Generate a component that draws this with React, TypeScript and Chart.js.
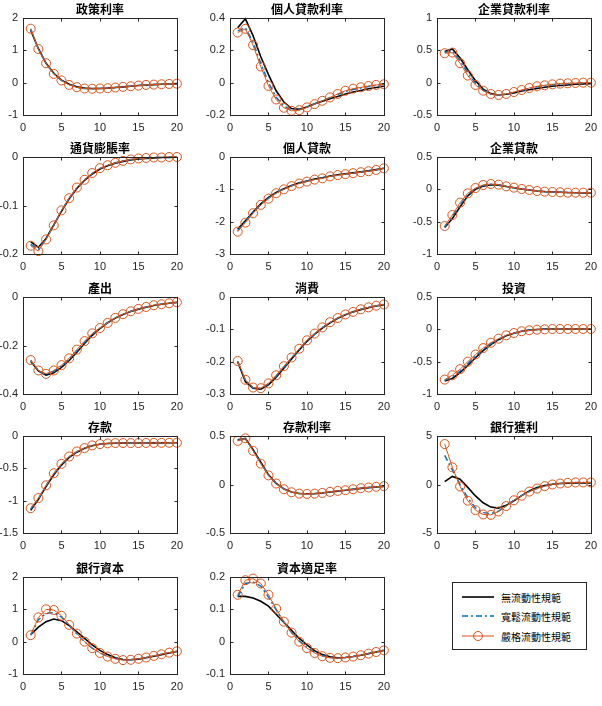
import React, { useEffect, useRef } from "react";
import { Chart, registerables } from "chart.js";

Chart.register(...registerables);

// ---- data ---------------------------------------------------------------
const periods = [1, 2, 3, 4, 5, 6, 7, 8, 9, 10, 11, 12, 13, 14, 15, 16, 17, 18, 19, 20];

const seriesNames = ["無流動性規範", "寬鬆流動性規範", "嚴格流動性規範"];

// 政策利率
const policyRateNone = [1.62, 1.05, 0.6, 0.29, 0.08, -0.05, -0.13, -0.17, -0.18, -0.18, -0.17, -0.15, -0.13, -0.11, -0.09, -0.07, -0.06, -0.05, -0.04, -0.03];
const policyRateLoose = [1.66, 1.04, 0.6, 0.28, 0.07, -0.06, -0.14, -0.18, -0.19, -0.18, -0.17, -0.15, -0.13, -0.11, -0.09, -0.07, -0.06, -0.05, -0.04, -0.03];
const policyRateStrict = [1.67, 1.04, 0.6, 0.27, 0.07, -0.07, -0.14, -0.18, -0.19, -0.18, -0.17, -0.15, -0.13, -0.11, -0.09, -0.07, -0.06, -0.05, -0.04, -0.03];

// 個人貸款利率
const hhRateNone = [0.34, 0.395, 0.29, 0.16, 0.05, -0.05, -0.12, -0.16, -0.165, -0.15, -0.13, -0.115, -0.1, -0.085, -0.07, -0.058, -0.048, -0.038, -0.03, -0.022];
const hhRateLoose = [0.32, 0.34, 0.25, 0.12, 0.0, -0.09, -0.145, -0.17, -0.168, -0.152, -0.132, -0.112, -0.092, -0.073, -0.055, -0.042, -0.033, -0.024, -0.017, -0.012];
const hhRateStrict = [0.31, 0.333, 0.232, 0.1, -0.02, -0.104, -0.155, -0.174, -0.17, -0.153, -0.133, -0.112, -0.091, -0.07, -0.05, -0.037, -0.029, -0.021, -0.014, -0.01];

// 企業貸款利率
const firmRateNone = [0.48, 0.52, 0.38, 0.2, 0.03, -0.1, -0.17, -0.19, -0.18, -0.16, -0.13, -0.11, -0.09, -0.07, -0.055, -0.045, -0.035, -0.025, -0.02, -0.015];
const firmRateLoose = [0.47, 0.49, 0.34, 0.15, -0.01, -0.12, -0.175, -0.19, -0.178, -0.15, -0.12, -0.09, -0.065, -0.048, -0.033, -0.022, -0.015, -0.01, -0.006, -0.004];
const firmRateStrict = [0.455, 0.465, 0.3, 0.11, -0.036, -0.124, -0.175, -0.19, -0.175, -0.145, -0.113, -0.082, -0.057, -0.041, -0.026, -0.015, -0.01, -0.005, 0, 0];

// 通貨膨脹率
const inflationNone = [-0.175, -0.186, -0.168, -0.14, -0.112, -0.086, -0.065, -0.048, -0.035, -0.025, -0.018, -0.013, -0.009, -0.006, -0.004, -0.003, -0.002, -0.001, -0.001, 0];
const inflationLoose = [-0.18, -0.19, -0.169, -0.141, -0.111, -0.085, -0.064, -0.047, -0.034, -0.024, -0.017, -0.012, -0.008, -0.005, -0.003, -0.002, -0.001, -0.001, 0, 0];
const inflationStrict = [-0.183, -0.194, -0.17, -0.141, -0.11, -0.085, -0.063, -0.047, -0.033, -0.023, -0.017, -0.012, -0.008, -0.005, -0.003, -0.002, -0.001, -0.001, 0, 0];

// 個人貸款
const hhLoansNone = [-2.23, -1.97, -1.7, -1.45, -1.25, -1.1, -0.98, -0.88, -0.8, -0.74, -0.68, -0.64, -0.59, -0.55, -0.52, -0.49, -0.46, -0.43, -0.39, -0.35];
const hhLoansLoose = [-2.28, -2.0, -1.72, -1.47, -1.27, -1.11, -0.99, -0.89, -0.81, -0.75, -0.69, -0.65, -0.6, -0.56, -0.53, -0.5, -0.47, -0.44, -0.4, -0.35];
const hhLoansStrict = [-2.31, -2.03, -1.74, -1.48, -1.29, -1.12, -1.0, -0.9, -0.82, -0.76, -0.7, -0.66, -0.6, -0.56, -0.53, -0.5, -0.47, -0.44, -0.4, -0.35];

// 企業貸款
const firmLoansNone = [-0.59, -0.45, -0.27, -0.1, 0.0, 0.05, 0.07, 0.065, 0.045, 0.025, 0.005, -0.01, -0.025, -0.035, -0.04, -0.045, -0.05, -0.052, -0.054, -0.055];
const firmLoansLoose = [-0.58, -0.42, -0.24, -0.08, 0.01, 0.06, 0.078, 0.07, 0.046, 0.026, 0.005, -0.01, -0.026, -0.036, -0.041, -0.046, -0.05, -0.052, -0.053, -0.053];
const firmLoansStrict = [-0.567, -0.397, -0.206, -0.062, 0.02, 0.067, 0.082, 0.072, 0.046, 0.026, 0.005, -0.01, -0.026, -0.036, -0.041, -0.046, -0.052, -0.052, -0.052, -0.052];

// 產出
const outputNone = [-0.265, -0.305, -0.322, -0.312, -0.29, -0.262, -0.228, -0.192, -0.158, -0.13, -0.106, -0.087, -0.072, -0.06, -0.05, -0.042, -0.035, -0.03, -0.026, -0.022];
const outputLoose = [-0.262, -0.304, -0.319, -0.307, -0.285, -0.257, -0.222, -0.187, -0.154, -0.129, -0.106, -0.086, -0.071, -0.059, -0.049, -0.041, -0.034, -0.03, -0.026, -0.022];
const outputStrict = [-0.26, -0.303, -0.317, -0.303, -0.281, -0.253, -0.217, -0.182, -0.15, -0.128, -0.107, -0.086, -0.071, -0.059, -0.049, -0.041, -0.034, -0.03, -0.026, -0.022];

// 消費
const consumptionNone = [-0.2, -0.262, -0.282, -0.285, -0.272, -0.248, -0.22, -0.192, -0.164, -0.137, -0.115, -0.096, -0.08, -0.066, -0.055, -0.046, -0.039, -0.033, -0.028, -0.024];
const consumptionLoose = [-0.199, -0.258, -0.281, -0.283, -0.269, -0.245, -0.217, -0.189, -0.162, -0.135, -0.114, -0.095, -0.079, -0.065, -0.054, -0.046, -0.038, -0.032, -0.027, -0.023];
const consumptionStrict = [-0.198, -0.256, -0.28, -0.282, -0.267, -0.242, -0.214, -0.187, -0.16, -0.134, -0.113, -0.094, -0.078, -0.065, -0.054, -0.046, -0.038, -0.032, -0.027, -0.023];

// 投資
const investmentNone = [-0.8, -0.76, -0.67, -0.56, -0.44, -0.33, -0.235, -0.16, -0.1, -0.06, -0.03, -0.012, -0.002, 0.003, 0.005, 0.005, 0.005, 0.005, 0.005, 0.005];
const investmentLoose = [-0.79, -0.735, -0.645, -0.53, -0.415, -0.31, -0.22, -0.152, -0.097, -0.058, -0.03, -0.013, -0.003, 0.002, 0.005, 0.005, 0.005, 0.005, 0.005, 0.005];
const investmentStrict = [-0.777, -0.71, -0.617, -0.5, -0.389, -0.29, -0.207, -0.145, -0.093, -0.057, -0.03, -0.015, -0.005, 0, 0.005, 0.005, 0.005, 0.005, 0.005, 0.005];

// 存款
const depositsNone = [-1.15, -0.98, -0.78, -0.6, -0.45, -0.33, -0.25, -0.19, -0.15, -0.128, -0.117, -0.112, -0.11, -0.11, -0.109, -0.108, -0.107, -0.106, -0.105, -0.105];
const depositsLoose = [-1.13, -0.97, -0.77, -0.585, -0.44, -0.322, -0.243, -0.188, -0.147, -0.126, -0.115, -0.11, -0.109, -0.109, -0.109, -0.108, -0.107, -0.106, -0.105, -0.104];
const depositsStrict = [-1.117, -0.96, -0.763, -0.576, -0.431, -0.317, -0.239, -0.187, -0.145, -0.125, -0.114, -0.109, -0.109, -0.109, -0.109, -0.108, -0.107, -0.106, -0.105, -0.104];

// 存款利率
const depositRateNone = [0.46, 0.475, 0.36, 0.23, 0.1, 0.012, -0.045, -0.078, -0.092, -0.096, -0.094, -0.088, -0.078, -0.068, -0.06, -0.05, -0.04, -0.032, -0.025, -0.02];
const depositRateLoose = [0.455, 0.476, 0.352, 0.22, 0.097, 0.011, -0.047, -0.079, -0.093, -0.097, -0.094, -0.087, -0.077, -0.067, -0.059, -0.049, -0.039, -0.031, -0.024, -0.018];
const depositRateStrict = [0.45, 0.476, 0.347, 0.215, 0.094, 0.01, -0.049, -0.08, -0.094, -0.097, -0.094, -0.087, -0.076, -0.066, -0.059, -0.049, -0.038, -0.031, -0.024, -0.017];

// 銀行獲利
const bankProfitNone = [0.3, 0.83, 0.55, -0.3, -1.18, -1.88, -2.33, -2.43, -2.15, -1.67, -1.15, -0.66, -0.31, -0.1, 0.03, 0.1, 0.13, 0.15, 0.15, 0.15];
const bankProfitLoose = [3.0, 1.5, 0.0, -1.4, -2.4, -2.9, -3.0, -2.75, -2.2, -1.63, -1.15, -0.73, -0.42, -0.17, 0, 0.1, 0.17, 0.2, 0.21, 0.21];
const bankProfitStrict = [4.17, 1.77, -0.21, -1.67, -2.64, -3.09, -3.13, -2.78, -2.22, -1.63, -1.15, -0.73, -0.42, -0.17, 0, 0.1, 0.17, 0.21, 0.21, 0.21];

// 銀行資本
const bankCapitalNone = [0.22, 0.45, 0.62, 0.7, 0.65, 0.5, 0.3, 0.1, -0.1, -0.27, -0.4, -0.5, -0.55, -0.56, -0.54, -0.5, -0.45, -0.4, -0.35, -0.3];
const bankCapitalLoose = [0.2, 0.68, 0.88, 0.9, 0.76, 0.5, 0.24, 0.0, -0.2, -0.35, -0.45, -0.52, -0.56, -0.56, -0.53, -0.49, -0.44, -0.39, -0.34, -0.3];
const bankCapitalStrict = [0.2, 0.75, 1.0, 0.98, 0.8, 0.52, 0.25, 0.0, -0.2, -0.35, -0.46, -0.53, -0.57, -0.56, -0.53, -0.49, -0.44, -0.39, -0.34, -0.3];

// 資本適足率
const capRatioNone = [0.14, 0.14, 0.135, 0.125, 0.11, 0.085, 0.06, 0.035, 0.01, -0.01, -0.028, -0.04, -0.047, -0.05, -0.049, -0.046, -0.042, -0.037, -0.032, -0.027];
const capRatioLoose = [0.14, 0.18, 0.185, 0.172, 0.138, 0.098, 0.06, 0.028, 0.002, -0.018, -0.033, -0.043, -0.049, -0.051, -0.049, -0.046, -0.042, -0.037, -0.032, -0.027];
const capRatioStrict = [0.145, 0.19, 0.195, 0.18, 0.145, 0.102, 0.062, 0.028, 0.0, -0.02, -0.035, -0.045, -0.05, -0.051, -0.049, -0.046, -0.042, -0.037, -0.032, -0.027];

// y-axis limits and tick steps per panel
const panelTitles = ["政策利率", "個人貸款利率", "企業貸款利率", "通貨膨脹率", "個人貸款", "企業貸款", "產出", "消費", "投資", "存款", "存款利率", "銀行獲利", "銀行資本", "資本適足率"];
const yMins = [-1, -0.2, -0.5, -0.2, -3, -1, -0.4, -0.3, -1, -1.5, -0.5, -5, -1, -0.1];
const yMaxs = [2, 0.4, 1, 0, 0, 0.5, 0, 0, 0.5, 0, 0.5, 5, 2, 0.2];
const ySteps = [1, 0.2, 0.5, 0.1, 1, 0.5, 0.2, 0.1, 0.5, 0.5, 0.5, 5, 1, 0.1];
const xTicks = [0, 5, 10, 15, 20];

const panelSeries: number[][][] = [
  [policyRateNone, policyRateLoose, policyRateStrict],
  [hhRateNone, hhRateLoose, hhRateStrict],
  [firmRateNone, firmRateLoose, firmRateStrict],
  [inflationNone, inflationLoose, inflationStrict],
  [hhLoansNone, hhLoansLoose, hhLoansStrict],
  [firmLoansNone, firmLoansLoose, firmLoansStrict],
  [outputNone, outputLoose, outputStrict],
  [consumptionNone, consumptionLoose, consumptionStrict],
  [investmentNone, investmentLoose, investmentStrict],
  [depositsNone, depositsLoose, depositsStrict],
  [depositRateNone, depositRateLoose, depositRateStrict],
  [bankProfitNone, bankProfitLoose, bankProfitStrict],
  [bankCapitalNone, bankCapitalLoose, bankCapitalStrict],
  [capRatioNone, capRatioLoose, capRatioStrict],
];

// ---- layout & style ----------------------------------------------------
const PLOT_LEFT = [23, 230, 437];
const PLOT_TOP = [18, 157, 297, 436, 577];
const PLOT_W = 158;
const PLOT_H = 97;
const TITLE_H = 18;
const X_AXIS_H = 22;
const RIGHT_PAD = 8;

const AXIS_COLOR = "#262626";
const BLACK = "#000000";
const BLUE = "#0072BD";
const ORANGE = "#D95319";
const TICK_FONT = { family: '"Liberation Sans", Arial, sans-serif', size: 11 };

const fmt = (v: number) => {
  const n = Number(v.toFixed(6));
  return String(n === 0 ? 0 : n);
};

const boxPlugin = (title: string) => ({
  id: "matlabBox",
  afterDraw(chart: any) {
    const { ctx, chartArea: a, scales } = chart;
    const L = Math.round(a.left) + 0.5;
    const R = Math.round(a.right) + 0.5;
    const T = Math.round(a.top) + 0.5;
    const B = Math.round(a.bottom) + 0.5;
    ctx.save();
    ctx.strokeStyle = AXIS_COLOR;
    ctx.lineWidth = 1;
    ctx.strokeRect(L, T, R - L, B - T);
    const len = 3;
    ctx.beginPath();
    for (const t of scales.x.ticks) {
      const px = Math.round(scales.x.getPixelForValue(t.value)) + 0.5;
      ctx.moveTo(px, B);
      ctx.lineTo(px, B - len);
      ctx.moveTo(px, T);
      ctx.lineTo(px, T + len);
    }
    for (const t of scales.y.ticks) {
      const py = Math.round(scales.y.getPixelForValue(t.value)) + 0.5;
      ctx.moveTo(L, py);
      ctx.lineTo(L + len, py);
      ctx.moveTo(R, py);
      ctx.lineTo(R - len, py);
    }
    ctx.stroke();
    ctx.fillStyle = "#000";
    ctx.font = 'bold 12px "Noto Sans CJK TC", sans-serif';
    ctx.textAlign = "center";
    ctx.textBaseline = "alphabetic";
    ctx.fillText(title, (a.left + a.right) / 2, a.top - 4);
    ctx.restore();
  },
});

function Panel({ index }: { index: number }) {
  const ref = useRef<HTMLCanvasElement>(null);
  const row = Math.floor(index / 3);
  const col = index % 3;
  const axisW = col === 0 ? PLOT_LEFT[0] : 30;
  const width = axisW + PLOT_W + RIGHT_PAD;
  const height = TITLE_H + PLOT_H + X_AXIS_H;
  const left = PLOT_LEFT[col] - axisW;
  const top = PLOT_TOP[row] - TITLE_H;

  useEffect(() => {
    const [none, loose, strict] = panelSeries[index];
    const toPts = (arr: number[]) => arr.map((y, i) => ({ x: periods[i], y }));
    const chart = new Chart(ref.current as HTMLCanvasElement, {
      type: "line",
      data: {
        datasets: [
          {
            label: seriesNames[2],
            data: toPts(strict),
            borderColor: ORANGE,
            borderWidth: 1,
            pointRadius: 4.5,
            pointStyle: "circle",
            pointBorderColor: ORANGE,
            pointBackgroundColor: "rgba(0,0,0,0)",
            pointBorderWidth: 1,
            tension: 0,
            clip: false,
            order: 0,
          },
          {
            label: seriesNames[1],
            data: toPts(loose),
            borderColor: BLUE,
            borderWidth: 1.5,
            borderDash: [6, 3, 2, 3],
            pointRadius: 0,
            tension: 0,
            clip: false,
            order: 1,
          },
          {
            label: seriesNames[0],
            data: toPts(none),
            borderColor: BLACK,
            borderWidth: 1.6,
            pointRadius: 0,
            tension: 0,
            clip: false,
            order: 2,
          },
        ],
      },
      options: {
        responsive: false,
        maintainAspectRatio: false,
        animation: false,
        events: [],
        layout: { padding: { top: TITLE_H, right: RIGHT_PAD, left: 0, bottom: 0 } },
        plugins: { legend: { display: false }, tooltip: { enabled: false }, title: { display: false } },
        scales: {
          x: {
            type: "linear",
            min: 0,
            max: 20,
            afterBuildTicks: (s: any) => {
              s.ticks = xTicks.map((v) => ({ value: v }));
            },
            ticks: { padding: 6, color: AXIS_COLOR, font: TICK_FONT, maxRotation: 0, callback: (v: any) => fmt(Number(v)) },
            grid: { display: false, drawTicks: false },
            border: { display: false },
            afterFit: (s: any) => {
              s.height = X_AXIS_H;
            },
          },
          y: {
            type: "linear",
            min: yMins[index],
            max: yMaxs[index],
            ticks: { stepSize: ySteps[index], padding: 5, color: AXIS_COLOR, font: TICK_FONT, callback: (v: any) => fmt(Number(v)) },
            grid: { display: false, drawTicks: false },
            border: { display: false },
            afterFit: (s: any) => {
              s.width = axisW;
            },
          },
        },
      } as any,
      plugins: [boxPlugin(panelTitles[index])],
    });
    return () => chart.destroy();
  }, [index]);

  return (
    <canvas
      ref={ref}
      width={width}
      height={height}
      style={{ position: "absolute", left, top, width, height }}
    />
  );
}

function Legend() {
  const rowY = [15, 34, 54];
  const font = '10px "Noto Sans CJK TC", sans-serif';
  return (
    <div
      style={{
        position: "absolute",
        left: 452,
        top: 582,
        width: 135,
        height: 68,
        border: "1px solid #262626",
        background: "#fff",
        boxSizing: "border-box",
      }}
    >
      <svg width={133} height={66} style={{ position: "absolute", left: 0, top: 0 }}>
        <line x1={9} y1={rowY[0] - 1} x2={41} y2={rowY[0] - 1} stroke={BLACK} strokeWidth={1.6} />
        <line x1={9} y1={rowY[1] - 1} x2={41} y2={rowY[1] - 1} stroke={BLUE} strokeWidth={1.5} strokeDasharray="6 3 2 3" />
        <line x1={9} y1={rowY[2] - 1} x2={41} y2={rowY[2] - 1} stroke={ORANGE} strokeWidth={1} />
        <circle cx={25} cy={rowY[2] - 1} r={4.5} fill="none" stroke={ORANGE} strokeWidth={1} />
      </svg>
      {seriesNames.map((name, i) => (
        <div
          key={name}
          style={{
            position: "absolute",
            left: 48,
            top: rowY[i] - 8,
            height: 14,
            lineHeight: "14px",
            font,
            color: "#000",
            whiteSpace: "nowrap",
          }}
        >
          {name}
        </div>
      ))}
    </div>
  );
}

export default function App() {
  return (
    <div
      style={{
        position: "absolute",
        left: 0,
        top: 0,
        width: 602,
        height: 706,
        background: "#fff",
        overflow: "hidden",
      }}
    >
      {panelTitles.map((_, i) => (
        <Panel key={i} index={i} />
      ))}
      <Legend />
    </div>
  );
}
